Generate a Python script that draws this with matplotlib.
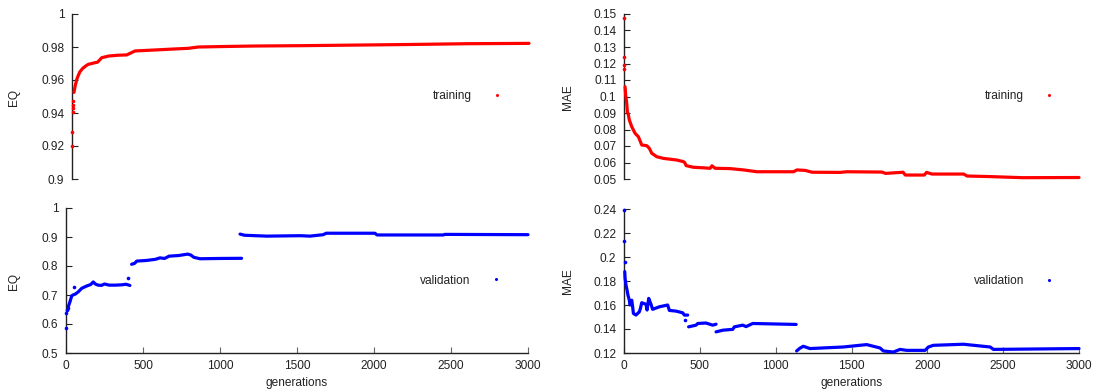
import numpy as np
import matplotlib
matplotlib.use("Agg")
import matplotlib.pyplot as plt
from matplotlib.lines import Line2D
from matplotlib.ticker import FuncFormatter

plt.rcParams['font.family'] = ['Liberation Sans', 'DejaVu Sans']

# ---------------- data ----------------
# training EQ
tr_eq_dot_gen = [0, 2, 6, 7, 8, 9]
tr_eq_dot_val = [0.920, 0.9287, 0.9404, 0.943, 0.945, 0.947]
tr_eq_gen = [13, 20, 30, 40, 52, 70, 90, 107, 130, 151, 168, 195, 239, 300, 359, 414,
             545, 650, 763, 830, 1000, 1200, 1500, 1700, 2000, 2200, 2600, 3000]
tr_eq_val = [0.9525, 0.956, 0.960, 0.9625, 0.965, 0.967, 0.9685, 0.9695, 0.970, 0.9705,
             0.9708, 0.9735, 0.9745, 0.975, 0.9752, 0.9776, 0.9782, 0.9787, 0.9792, 0.980,
             0.9803, 0.9806, 0.9808, 0.981, 0.9813, 0.9815, 0.982, 0.9822]

# validation EQ (segments separated by NaN)
va_eq_dot_gen = [0, 3, 6, 10, 55, 400]
va_eq_dot_val = [0.585, 0.637, 0.648, 0.655, 0.729, 0.758]
va_eq_gen = [15, 26, 37, 45, 60, 80, 102, 134, 160, 177, 190, 208, 230, 250, 280, 320, 360, 390, 415,
             420,
             426, 445, 460, 520, 580, 610, 640, 670, 730, 790, 810, 830, 870, 1000, 1140,
             1135,
             1130, 1160, 1303, 1520, 1585, 1670, 1690, 2006, 2020, 2450, 2460, 3000]
va_eq_val = [0.660, 0.677, 0.697, 0.700, 0.703, 0.711, 0.723, 0.731, 0.736, 0.745, 0.738, 0.734,
             0.733, 0.738, 0.734, 0.734, 0.735, 0.737, 0.733,
             np.nan,
             0.806, 0.809, 0.817, 0.819, 0.823, 0.828, 0.826, 0.834, 0.836, 0.841, 0.838, 0.830,
             0.825, 0.826, 0.8265,
             np.nan,
             0.910, 0.906, 0.903, 0.9045, 0.903, 0.908, 0.913, 0.913, 0.907, 0.907, 0.909, 0.908]

# training MAE
tr_mae_dot_gen = [0, 1, 2, 3]
tr_mae_dot_val = [0.1474, 0.124, 0.119, 0.1167]
tr_mae_gen = [7, 11, 18, 22, 29, 35, 51, 73, 95, 117, 150, 167, 183, 216, 260, 348, 392, 400,
              410, 458, 520, 568, 580, 600, 700, 788, 876, 1118, 1140, 1195, 1240, 1425, 1470,
              1700, 1725, 1840, 1855, 1980, 1995, 2030, 2240, 2262, 2400, 2630, 3000]
tr_mae_val = [0.1059, 0.1009, 0.0959, 0.0908, 0.0888, 0.0858, 0.0817, 0.0777, 0.0756, 0.0706,
              0.0702, 0.0686, 0.0656, 0.0635, 0.0625, 0.0615, 0.0605, 0.060, 0.0581, 0.0571,
              0.0568, 0.0565, 0.058, 0.0565, 0.0563, 0.0555, 0.0544, 0.0544, 0.0555, 0.0552,
              0.0541, 0.054, 0.0544, 0.0542, 0.0534, 0.0541, 0.0524, 0.0524, 0.054, 0.053,
              0.053, 0.0518, 0.0515, 0.0508, 0.0509]

# validation MAE
va_mae_dot_gen = [0, 1, 4, 405]
va_mae_dot_val = [0.2389, 0.213, 0.196, 0.1474]
va_mae_gen = [5, 7, 13, 20, 26, 35, 40, 51, 57, 62, 79, 101, 108, 117, 145, 152, 163, 178, 189,
              233, 288, 299, 343, 387, 398, 420,
              423,
              426, 475, 486, 540, 585, 607,
              607,
              607, 651, 717, 728, 783, 805, 849, 1135,
              1136,
              1138, 1160, 1182, 1226, 1446, 1600, 1688, 1710, 1776, 1820, 1864, 1985, 2007,
              2040, 2238, 2414, 2436, 3000]
va_mae_val = [0.1878, 0.1823, 0.1767, 0.1725, 0.1683, 0.1641, 0.160, 0.164, 0.1585, 0.153,
              0.1516, 0.1543, 0.157, 0.1619, 0.1606, 0.1558, 0.1655, 0.1606, 0.1564, 0.1585,
              0.160, 0.1555, 0.1549, 0.1535, 0.1516, 0.1516,
              np.nan,
              0.1418, 0.1432, 0.1446, 0.145, 0.1432, 0.144,
              np.nan,
              0.1376, 0.139, 0.1397, 0.1418, 0.1432, 0.142, 0.1446, 0.1438,
              np.nan,
              0.1217, 0.124, 0.1256, 0.1237, 0.125, 0.127, 0.1242, 0.1217, 0.1208, 0.123,
              0.1222, 0.1222, 0.125, 0.1264, 0.1273, 0.125, 0.123, 0.1237]

eq_top_ticks = [0.9, 0.92, 0.94, 0.96, 0.98, 1.0]
eq_bot_ticks = [0.5, 0.6, 0.7, 0.8, 0.9, 1.0]
mae_top_ticks = [0.05, 0.06, 0.07, 0.08, 0.09, 0.10, 0.11, 0.12, 0.13, 0.14, 0.15]
mae_bot_ticks = [0.12, 0.14, 0.16, 0.18, 0.20, 0.22, 0.24]
gen_ticks = [0, 500, 1000, 1500, 2000, 2500, 3000]

# ---------------- figure ----------------
W, H = 1099, 392
fig = plt.figure(figsize=(W / 100, H / 100), dpi=100)
TXT = '#222222'
FS = 8.6


def rect(l, r, t, b):
    return [l / W, 1 - b / H, (r - l) / W, (b - t) / H]


ax_tl = fig.add_axes(rect(72, 529, 14, 179))
ax_bl = fig.add_axes(rect(66, 528, 208, 353))
ax_tr = fig.add_axes(rect(624, 1079, 14, 179))
ax_br = fig.add_axes(rect(624, 1079, 209, 353))

fmt = FuncFormatter(lambda v, p: ('%g' % round(v, 4)))

specs = [
    (ax_tl, tr_eq_gen, tr_eq_val, tr_eq_dot_gen, tr_eq_dot_val, '#ff0000', (0.9, 1.0), eq_top_ticks, 'training', False),
    (ax_bl, va_eq_gen, va_eq_val, va_eq_dot_gen, va_eq_dot_val, '#0000ff', (0.5, 1.0), eq_bot_ticks, 'validation', True),
    (ax_tr, tr_mae_gen, tr_mae_val, tr_mae_dot_gen, tr_mae_dot_val, '#ff0000', (0.05, 0.15), mae_top_ticks, 'training', False),
    (ax_br, va_mae_gen, va_mae_val, va_mae_dot_gen, va_mae_dot_val, '#0000ff', (0.12, 0.24), mae_bot_ticks, 'validation', True),
]

for ax, g, v, dg, dv, col, ylim, yt, lab, bottom in specs:
    ax.plot(g, v, '-', color=col, lw=2.3, solid_capstyle='round', clip_on=False, zorder=4)
    ax.plot(dg, dv, 'o', color=col, ms=2.6, mew=0, clip_on=False, zorder=4)
    ax.set_xlim(0, 3000)
    ax.set_ylim(*ylim)
    ax.set_yticks(yt)
    ax.yaxis.set_major_formatter(fmt)
    for s in ['top', 'right']:
        ax.spines[s].set_visible(False)
    ax.spines['left'].set_color('#222222')
    ax.spines['left'].set_linewidth(1.0)
    ax.tick_params(axis='y', direction='in', length=4, width=0.8, colors='#222222',
                   labelcolor=TXT, labelsize=FS, pad=5.5)
    if bottom:
        ax.spines['bottom'].set_color('#222222')
        ax.spines['bottom'].set_linewidth(1.0)
        ax.set_xticks(gen_ticks)
        ax.tick_params(axis='x', direction='in', length=4, width=0.8, colors='#666666',
                       labelcolor=TXT, labelsize=FS, pad=5)
    else:
        ax.spines['bottom'].set_visible(False)
        ax.set_xticks([])
    ax.set_facecolor('none')
    h = Line2D([], [], ls='none', marker='o', ms=2.2, mew=0, color=col)
    xr = 0.943 if ax in (ax_tl, ax_bl) else 0.947
    ax.legend([h], [lab], loc='center right', bbox_to_anchor=(xr, 0.5), frameon=False,
              markerfirst=False, handlelength=1.0, handletextpad=1.6, borderpad=0,
              borderaxespad=0, numpoints=1, prop={'size': FS}, labelcolor=TXT)

# axis titles
fig.text(14 / W, 1 - 97 / H, 'EQ', rotation=90, ha='center', va='center', fontsize=FS, color=TXT)
fig.text(14 / W, 1 - 281 / H, 'EQ', rotation=90, ha='center', va='center', fontsize=FS, color=TXT)
fig.text(568 / W, 1 - 97 / H, 'MAE', rotation=90, ha='center', va='center', fontsize=FS, color=TXT)
fig.text(568 / W, 1 - 281 / H, 'MAE', rotation=90, ha='center', va='center', fontsize=FS, color=TXT)
fig.text(297 / W, 1 - 383 / H, 'generations', ha='center', va='center', fontsize=FS, color=TXT)
fig.text(852 / W, 1 - 383 / H, 'generations', ha='center', va='center', fontsize=FS, color=TXT)

fig.savefig('out.png', dpi=100)
